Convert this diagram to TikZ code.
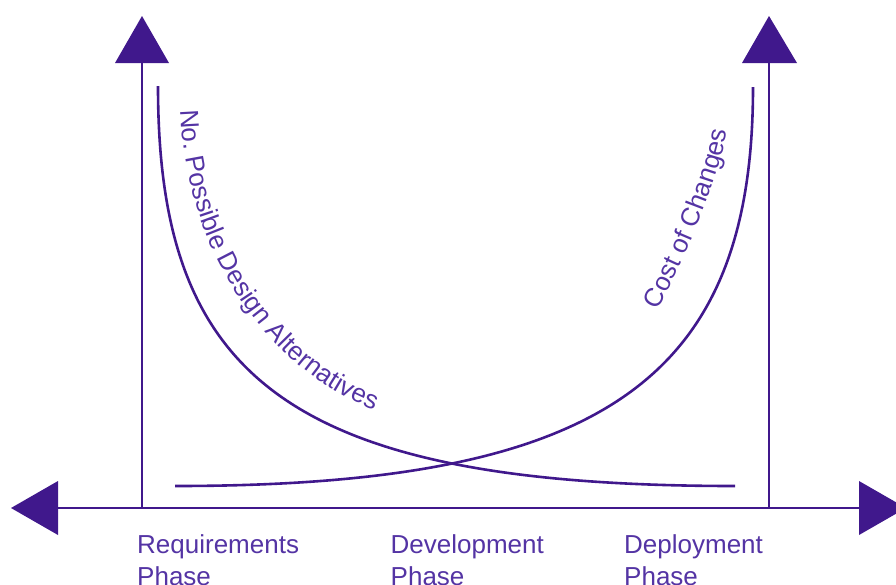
\documentclass[tikz,border=0pt]{standalone}
\usepackage{fontspec}
\setmainfont{Liberation Sans}
\usetikzlibrary{decorations.text}
\definecolor{pline}{RGB}{64,24,140}
\definecolor{ptext}{RGB}{84,52,164}
\begin{document}
\begin{tikzpicture}[x=1pt,y=-1pt,
  axisline/.style={draw=pline,line width=2pt},
  headfill/.style={fill=pline,draw=none},
  curveline/.style={draw=pline,line width=2.6pt},
  phase/.style={anchor=base west,inner sep=0pt,font=\fontsize{26}{31.7}\selectfont,text=ptext,align=left},
  curvetext/.style={decorate,decoration={text along path,text align=left,text color=ptext,text={#1}}}
]
\useasboundingbox (0,0) rectangle (896,584);
\clip (0,0) rectangle (896,584);
% axis coordinates
\coordinate (O) at (142,508);
\coordinate (Rb) at (769,508);
\coordinate (LT) at (142,62);
\coordinate (RT) at (769,62);
\coordinate (HL) at (57,508);
\coordinate (HR) at (860,508);
% axes
\draw[axisline] (LT) -- (O);
\draw[axisline] (RT) -- (Rb);
\draw[axisline] (HL) -- (HR);
% arrow heads
\fill[headfill] (142,16) -- (115,63) -- (169,63) -- cycle;
\fill[headfill] (769,16) -- (742,63) -- (797,63) -- cycle;
\fill[headfill] (11,508) -- (58,481) -- (58,535) -- cycle;
\fill[headfill] (906,508) -- (859,481) -- (859,535) -- cycle;
% curves
\coordinate (A0) at (158,86);
\coordinate (A3) at (735,486);
\coordinate (C0) at (175,486);
\coordinate (C3) at (753,87);
\draw[curveline] (A0) .. controls (158,375) and (285,486) .. (A3);
\draw[curveline] (C0) .. controls (605,486) and (753,378) .. (C3);
% curve labels
\path[curvetext={|\fontsize{26}{30}\selectfont|No. Possible Design Alternatives}] (181,110) .. controls (185,250) and (270,380) .. (392,416);
\path[curvetext={|\fontsize{26}{30}\selectfont|Cost of Changes}] (657,310) .. controls (680,270) and (722,175) .. (728,125);
% phase labels
\node[phase] (req) at (137,585) {Requirements\\Phase};
\node[phase] (dev) at (390.5,585) {Development\\Phase};
\node[phase] (dep) at (624,585) {Deployment\\Phase};
\end{tikzpicture}
\end{document}
